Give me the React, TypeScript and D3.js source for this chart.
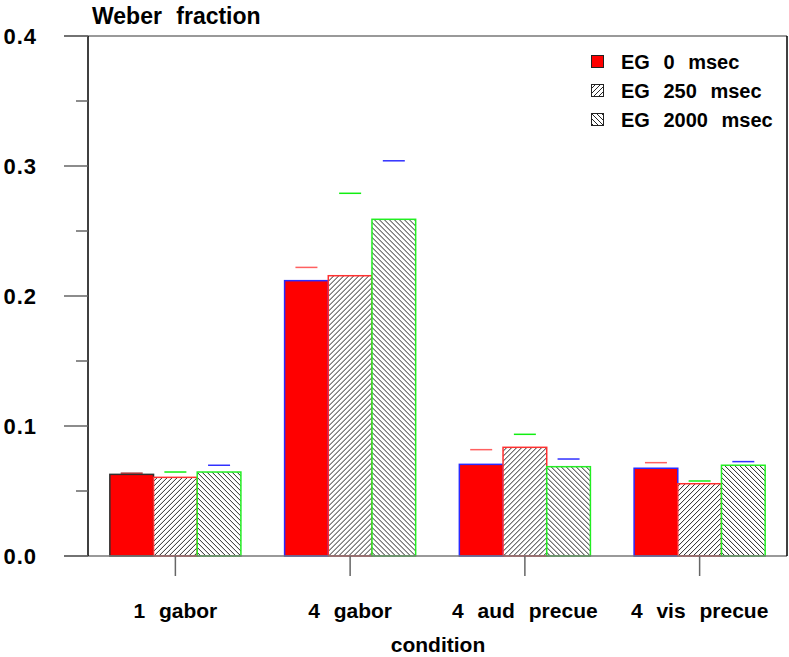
import React from "react";
import * as d3 from "d3";

const categories = ["1 gabor", "4 gabor", "4 aud precue", "4 vis precue"];
const seriesNames = ["EG 0 msec", "EG 250 msec", "EG 2000 msec"];
const eg0 = [0.0628, 0.2118, 0.0705, 0.0675];
const eg250 = [0.0605, 0.2156, 0.0836, 0.0556];
const eg2000 = [0.0646, 0.259, 0.0687, 0.0698];
const err0 = [0.0637, 0.222, 0.0818, 0.0718];
const err250 = [0.0646, 0.279, 0.0936, 0.0577];
const err2000 = [0.0698, 0.304, 0.0746, 0.0726];
const yTicks = [0.0, 0.1, 0.2, 0.3, 0.4];
const yMinorTicks = [0.05, 0.15, 0.25, 0.35];

const W = 789;
const H = 657;
const left = 88;
const right = 787;
const top = 36;
const bottom = 556;
const FONT = "'Liberation Sans', Arial, sans-serif";

export default function App() {
  const values = [eg0, eg250, eg2000];
  const errs = [err0, err250, err2000];
  const x0 = d3.scaleBand().domain(categories).range([left, right]).paddingInner(0.25).paddingOuter(0.125);
  const x1 = d3.scaleBand().domain(["0", "1", "2"]).range([0, x0.bandwidth()]);
  const y = d3.scaleLinear().domain([0, 0.4]).range([bottom, top]);

  const fills = ["#ff0000", "url(#hatchR)", "url(#hatchL)"];
  const outline = (s: number, g: number) =>
    s === 0 ? (g === 0 ? "#303030" : "#2a2aff") : s === 1 ? "#ff3030" : "#22ee22";
  const errColor = (s: number, g: number) =>
    s === 0 ? (g === 0 ? "#a03030" : "#ff6060") : s === 1 ? "#11ee11" : "#3030ff";

  return (
    <svg width={W} height={H} style={{ position: "absolute", left: 0, top: 0, background: "#fff" }}>
      <defs>
        <pattern id="hatchR" patternUnits="userSpaceOnUse" width={5} height={5}>
          <rect width={5} height={5} fill="#fff" />
          <path d="M-1,1 l2,-2 M0,5 l5,-5 M4,6 l2,-2" stroke="#000" strokeWidth={0.85} />
        </pattern>
        <pattern id="hatchL" patternUnits="userSpaceOnUse" width={5} height={5}>
          <rect width={5} height={5} fill="#fff" />
          <path d="M-1,4 l2,2 M0,0 l5,5 M4,-1 l2,2" stroke="#000" strokeWidth={0.85} />
        </pattern>
      </defs>

      {/* bars */}
      {categories.map((c, g) => (
        <g key={c} transform={`translate(${x0(c)},0)`}>
          {values.map((vals, s) => (
            <rect
              key={s}
              x={x1(String(s))}
              y={y(vals[g])}
              width={x1.bandwidth()}
              height={y(0) - y(vals[g])}
              fill={fills[s]}
              stroke={outline(s, g)}
              strokeWidth={1.5}
            />
          ))}
          {errs.map((vals, s) => {
            const cx = (x1(String(s)) as number) + x1.bandwidth() / 2;
            return (
              <line
                key={"e" + s}
                x1={cx - 11}
                x2={cx + 11}
                y1={y(vals[g])}
                y2={y(vals[g])}
                stroke={errColor(s, g)}
                strokeWidth={1.5}
              />
            );
          })}
        </g>
      ))}

      {/* frame */}
      <line x1={64} x2={right} y1={y(0.4)} y2={y(0.4)} stroke="#777" strokeWidth={1.5} />
      <line x1={64} x2={right} y1={y(0)} y2={y(0)} stroke="#777" strokeWidth={1.5} />
      <line x1={left} x2={left} y1={top} y2={bottom} stroke="#000" strokeWidth={1.5} />
      <line x1={right} x2={right} y1={top} y2={bottom} stroke="#000" strokeWidth={1.5} />

      {yTicks.map((t) => (
        <g key={t}>
          <line x1={64} x2={left} y1={y(t)} y2={y(t)} stroke="#666" strokeWidth={1.5} />
          <text
            x={37}
            y={y(t)}
            dy="0.36em"
            textAnchor="end"
            fontFamily={FONT}
            fontWeight="bold"
            fontSize={22}
            letterSpacing={1}
          >
            {t.toFixed(1)}
          </text>
        </g>
      ))}
      {yMinorTicks.map((t) => (
        <line key={t} x1={76} x2={left} y1={y(t)} y2={y(t)} stroke="#666" strokeWidth={1.5} />
      ))}

      {categories.map((c) => {
        const cx = (x0(c) as number) + x0.bandwidth() / 2;
        return (
          <g key={"xt" + c}>
            <line x1={cx} x2={cx} y1={bottom} y2={576} stroke="#666" strokeWidth={1.5} />
            <text
              x={cx}
              y={618}
              textAnchor="middle"
              fontFamily={FONT}
              fontWeight="bold"
              fontSize={21}
              wordSpacing={8}
            >
              {c}
            </text>
          </g>
        );
      })}

      <text x={438} y={652} textAnchor="middle" fontFamily={FONT} fontWeight="bold" fontSize={21}>
        condition
      </text>
      <text x={92} y={24} fontFamily={FONT} fontWeight="bold" fontSize={23} wordSpacing={8}>
        Weber fraction
      </text>

      {/* legend */}
      {seriesNames.map((n, i) => (
        <g key={n} transform={`translate(591,${55 + i * 29})`}>
          <rect x={0.5} y={0.5} width={12} height={12} fill={fills[i]} stroke="#222" strokeWidth={1} />
          <text x={30} y={14} fontFamily={FONT} fontWeight="bold" fontSize={20} wordSpacing={8}>
            {n}
          </text>
        </g>
      ))}
    </svg>
  );
}
